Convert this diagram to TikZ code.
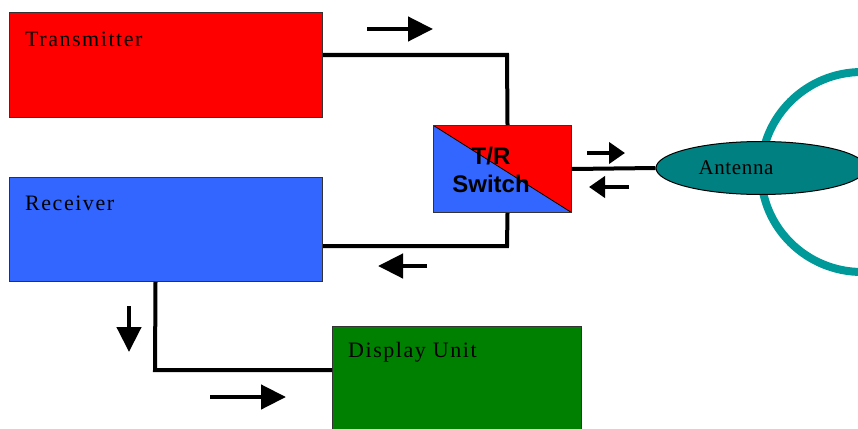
\documentclass[tikz,border=0pt]{standalone}
\usepackage{fontspec}
\setmainfont{Liberation Serif}
\newfontfamily\swfont{Liberation Sans}
\usetikzlibrary{shapes.geometric,arrows.meta,calc}
\definecolor{txred}{HTML}{FF0000}
\definecolor{rxblue}{HTML}{3366FF}
\definecolor{dugreen}{HTML}{008000}
\definecolor{antteal}{HTML}{008080}
\definecolor{ringteal}{HTML}{009999}
\tikzset{
  box/.style={draw=black!80, line width=1pt, rectangle, inner sep=0pt},
  boxlabel/.style={anchor=west, inner sep=0pt, font=\fontsize{22}{24}\selectfont\addfontfeatures{LetterSpace=7}},
  conn/.style={line width=4pt, black},
  bigarrow/.style={line width=4.5pt, -{Triangle[length=25pt,width=24pt]}},
  smallarrow/.style={line width=4.5pt, -{Triangle[length=16pt,width=21pt]}},
}
\begin{document}
\begin{tikzpicture}[x=1pt,y=-1pt]
\useasboundingbox (0,0) rectangle (858,428);
\clip (0,0) rectangle (858,428);
% ring behind antenna
\draw[ringteal, line width=8pt] (862,172) ellipse (101 and 100);
% boxes
\node[box, fill=txred, minimum width=313pt, minimum height=105pt, anchor=north west] (tx) at (9,12) {};
\node[box, fill=rxblue, minimum width=313pt, minimum height=104pt, anchor=north west] (rx) at (9,177) {};
\node[box, fill=dugreen, minimum width=249pt, minimum height=120pt, anchor=north west] (du) at (332,326) {};
\node[boxlabel] (txl) at (25,39) {Transmitter};
\node[boxlabel] (rxl) at (25,203) {Receiver};
\node[boxlabel] (dul) at (348,352) {Display Unit};
% T/R switch
\node[box, minimum width=138pt, minimum height=87pt, anchor=north west,
  path picture={
    \fill[rxblue] (path picture bounding box.north west) -- (path picture bounding box.south east) -- (path picture bounding box.south west) -- cycle;
    \fill[txred] (path picture bounding box.north west) -- (path picture bounding box.south east) -- (path picture bounding box.north east) -- cycle;
    \draw[black, line width=0.8pt] (path picture bounding box.north west) -- (path picture bounding box.south east);
  }] (sw) at (433,125) {};
\node[align=center, inner sep=0pt, font=\swfont\bfseries\fontsize{24}{28}\selectfont] (swl) at (491,170) {T/R\\Switch};
% antenna
\node[ellipse, draw=black, line width=1pt, fill=antteal, minimum width=210pt, minimum height=53pt, inner sep=0pt] (ant) at (761,168) {};
\node[inner sep=0pt, font=\fontsize{21}{23}\selectfont\addfontfeatures{LetterSpace=3}] (antl) at (736,168) {Antenna};
% connectors
\coordinate (c1) at (507,55);
\draw[conn] (tx.east |- c1) -- (c1) -- ([xshift=5pt]sw.north);
\coordinate (c2) at (507,246);
\draw[conn] ([xshift=5pt]sw.south) -- (c2) -- (rx.east |- c2);
\coordinate (c3) at (155,370);
\draw[conn] ([xshift=-10.5pt]rx.south) -- (c3) -- (du.west |- c3);
\draw[conn] (sw.east) -- (ant.west);
% direction arrows
\coordinate (a1s) at (367,29); \coordinate (a1e) at (433,29);
\draw[bigarrow] (a1s) -- (a1e);
\coordinate (a2s) at (427,266); \coordinate (a2e) at (378,266);
\draw[bigarrow] (a2s) -- (a2e);
\coordinate (a3s) at (587,153); \coordinate (a3e) at (625,153);
\draw[smallarrow] (a3s) -- (a3e);
\coordinate (a4s) at (629,187); \coordinate (a4e) at (589,187);
\draw[smallarrow] (a4s) -- (a4e);
\coordinate (a5s) at (129,306); \coordinate (a5e) at (129,352);
\draw[bigarrow] (a5s) -- (a5e);
\coordinate (a6s) at (210,397); \coordinate (a6e) at (286,397);
\draw[bigarrow] (a6s) -- (a6e);
\end{tikzpicture}
\end{document}
